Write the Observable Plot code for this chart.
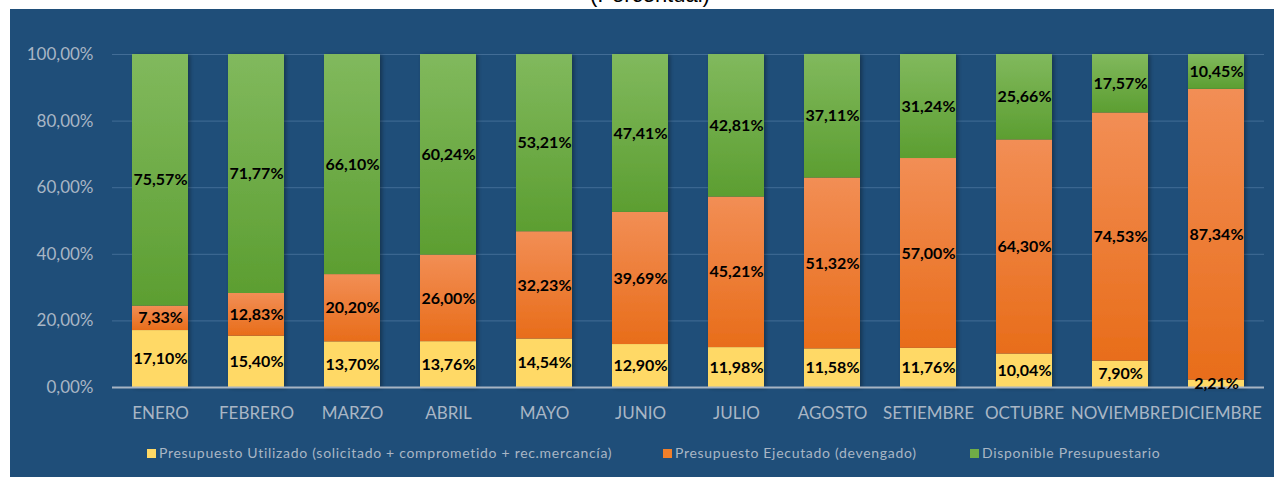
<!DOCTYPE html>
<html><head><meta charset="utf-8">
<script src="https://cdn.jsdelivr.net/npm/d3@7"></script>
<script src="https://cdn.jsdelivr.net/npm/@observablehq/plot@0.6"></script>
<style>
body{margin:0;background:#fff;width:1274px;height:477px;overflow:hidden;position:relative;font-family:Lato,sans-serif}
#title{position:absolute;left:0;width:1300px;text-align:center;top:-16px;font-size:22px;line-height:22px;font-family:"Liberation Sans",Arial,sans-serif;color:#000}
#panel{position:absolute;left:10px;top:9px;width:1264px;height:468px;background:#1F4E79}
#chart{position:absolute;left:0;top:0}
.li{position:absolute;top:436px;height:16px;line-height:16px;font-size:14px;letter-spacing:0.7px;color:#A9B6C5;white-space:nowrap;font-family:Lato,sans-serif}
.sw{display:inline-block;width:9px;height:9px;margin-right:3px;vertical-align:0px}
</style></head>
<body>
<div id="title">(Porcentual)</div>
<div id="panel">
  <div id="chart"></div>
  <div id="legend"></div>
</div>
<script>
const months = ["ENERO","FEBRERO","MARZO","ABRIL","MAYO","JUNIO","JULIO","AGOSTO","SETIEMBRE","OCTUBRE","NOVIEMBRE","DICIEMBRE"];
const utilizado  = [17.10,15.40,13.70,13.76,14.54,12.90,11.98,11.58,11.76,10.04,7.90,2.21];
const ejecutado  = [7.33,12.83,20.20,26.00,32.23,39.69,45.21,51.32,57.00,64.30,74.53,87.34];
const disponible = [75.57,71.77,66.10,60.24,53.21,47.41,42.81,37.11,31.24,25.66,17.57,10.45];
const seriesNames = [
  "Presupuesto Utilizado (solicitado + comprometido + rec.mercancía)",
  "Presupuesto Ejecutado (devengado)",
  "Disponible Presupuestario"
];
const yTicks = [0,20,40,60,80,100];
const swatchColors = ["#FFD966","#F07F2A","#70AD47"];
const gradIds = ["url(#gY)","url(#gO)","url(#gG)"];

const seriesValues = [utilizado, ejecutado, disponible];
const table = [];
seriesNames.forEach((s, si) => months.forEach((m, mi) => table.push({month: m, series: s, value: seriesValues[si][mi]})));
const fmt = v => v.toFixed(2).replace(".", ",") + "%";

const chart = Plot.plot({
  width: 1264, height: 420,
  marginLeft: 102, marginRight: 10, marginTop: 45, marginBottom: 42,
  style: {background: "transparent", color: "#A9B6C5", fontFamily: "Lato, sans-serif", fontSize: "17px"},
  x: {domain: months, paddingInner: 0.42, paddingOuter: 0.21, label: null, tickSize: 0, tickPadding: 19},
  y: {domain: [0, 100], ticks: yTicks, tickFormat: d => d.toFixed(2).replace(".", ",") + "%", label: null, tickSize: 0, tickPadding: 19},
  color: {domain: seriesNames, range: gradIds},
  marks: [
    Plot.ruleY(yTicks.slice(1), {stroke: "#426D96", strokeWidth: 1}),
    Plot.barY(table, Plot.stackY({x: "month", y: "value", z: "series", fill: "series"})),
    Plot.ruleY([0], {stroke: "#A7B4C3", strokeWidth: 2}),
    Plot.text(table, Plot.stackY({x: "month", y: "value", z: "series", text: d => fmt(d.value), fill: "#000", fontWeight: "bold", fontSize: 16, fontFamily: "Lato, sans-serif"}))
  ]
});
document.getElementById("chart").appendChild(chart);

const svg = d3.select(chart);
const defs = svg.insert("defs", ":first-child");
function grad(id, c1, c2) {
  const g = defs.append("linearGradient").attr("id", id).attr("x1", 0).attr("y1", 0).attr("x2", 0).attr("y2", 1);
  g.append("stop").attr("offset", "0%").attr("stop-color", c1);
  g.append("stop").attr("offset", "100%").attr("stop-color", c2);
}
grad("gY", "#FFD966", "#FFD966");
grad("gO", "#F28E55", "#E86D1A");
grad("gG", "#81B95D", "#5C9E31");
const f = defs.append("filter").attr("id", "sh").attr("x", "-20%").attr("y", "-20%").attr("width", "140%").attr("height", "140%");
f.append("feDropShadow").attr("dx", 2).attr("dy", 1).attr("stdDeviation", 2).attr("flood-color", "#000").attr("flood-opacity", 0.35);
svg.selectAll("g[aria-label='bar']").attr("filter", "url(#sh)");

const legendPos = [137, 653, 960];
const leg = document.getElementById("legend");
seriesNames.forEach((s, i) => {
  const d = document.createElement("div");
  d.className = "li";
  d.style.left = legendPos[i] + "px";
  d.innerHTML = `<span class="sw" style="background:${swatchColors[i]}"></span>`;
  d.appendChild(document.createTextNode(s));
  leg.appendChild(d);
});
</script>
</body></html>
